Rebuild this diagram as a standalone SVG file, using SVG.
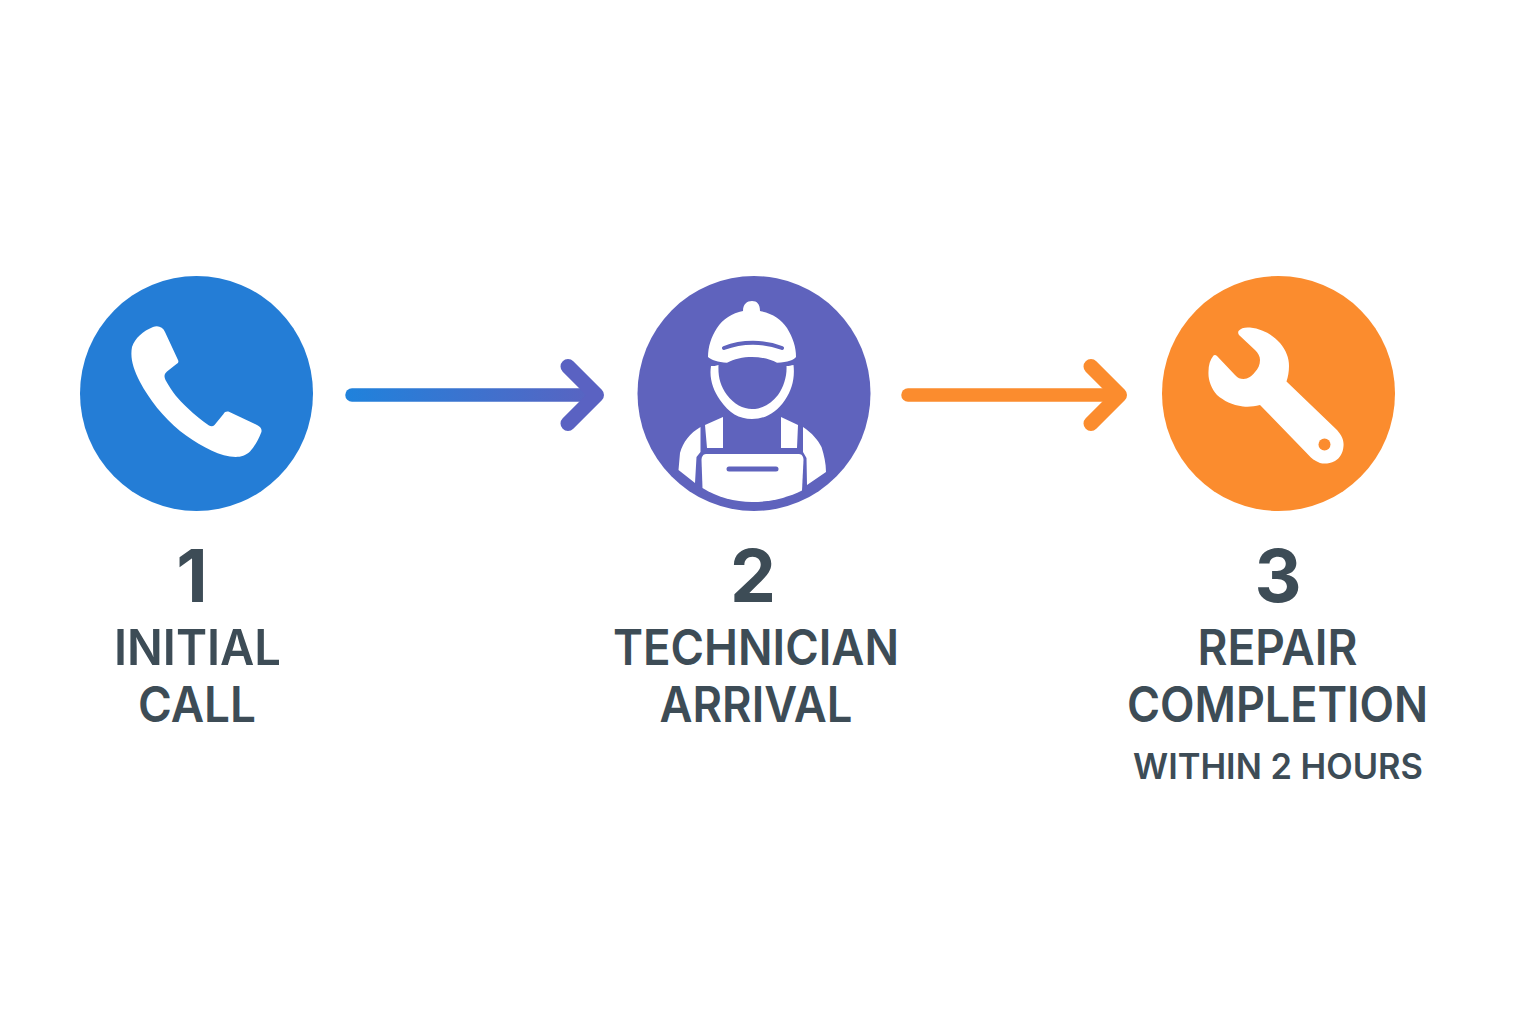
<svg xmlns="http://www.w3.org/2000/svg" width="1536" height="1024" viewBox="0 0 1536 1024">
<style>
text{font-family:Inter,Roboto,"Liberation Sans",sans-serif;fill:#3d4c56;text-anchor:middle}
.n{font-size:73px;font-weight:700}
.l{font-size:49px;font-weight:600}
.s{font-size:35px;font-weight:600}
.w{fill:#fff}
.a{fill:none;stroke-linecap:round;stroke-linejoin:round}
</style>
<defs>
<linearGradient id="g" gradientUnits="userSpaceOnUse" x1="346" y1="395" x2="604" y2="395"><stop offset="0" stop-color="#1f82dc"/><stop offset="1" stop-color="#5c62c0"/></linearGradient>
</defs>
<rect width="1536" height="1024" fill="#fff"/>
<g id="connectors">
<path class="a" stroke="url(#g)" stroke-width="13.500" d="M352 395H595"/>
<path class="a" stroke="#5a62c2" stroke-width="15" d="M568 366.500L596.500 395L568 423.500"/>
<path class="a" stroke="#fb8c2e" stroke-width="13.500" d="M908 395H1118"/>
<path class="a" stroke="#fb8c2e" stroke-width="15" d="M1091 366.500L1119.500 395L1091 423.500"/>
</g>
<g id="node1">
<ellipse cx="196.500" cy="393.500" rx="116.500" ry="117.500" fill="#247dd6"/>
<path class="w" d="M153 327C158 325 163 327 165 332L178 360C179 362 178 363 176.500 364L167 371.500C164 374 164 377 165.500 380C172 392 179 400 186.500 407C195 415 202 421 209 425.500C211 426.500 213 426.500 214.500 425L223.500 414C225 411.500 227 411 229.500 412L257 425C261 427 262.500 430 261 433C258 441 254 447 250 451.500C244 457 238 457.500 230 456.500C214 454 196 443 180 431C163 417 149 399 140 382C133 368 130 358 132 347C135 338 143 331 153 327Z"/>
<text class="n" x="192" y="602">1</text>
<text class="l" x="197.500" y="665" textLength="167" lengthAdjust="spacingAndGlyphs">INITIAL</text>
<text class="l" x="197" y="722" textLength="118" lengthAdjust="spacingAndGlyphs">CALL</text>
</g>
<g id="node2">
<ellipse cx="754" cy="393.500" rx="116.500" ry="117.500" fill="#5f63bd"/>
<path class="w" d="M743 311C743 304 747 301 752 301C757 301 760 304 760 311C772 313 781 319 787 328C793 338 796 347 796 357C794 360 788 362 777 362.700C770 359 761 357 752 357C743 357 734 359 727 362.700C718 362 711 360 708 357C708 347 711 337 717 328C723 319 732 313 743 311Z"/>
<path d="M724 348C742 341 764 341 782 348" fill="none" stroke="#5f63bd" stroke-width="4" stroke-linecap="round"/>
<path class="w" d="M711 366C713 366 716 366 718.500 365C718 376 720 386 727 395C734 404 743 409 752 409C762 409 771 404 778 395C784 386 787 376 786.500 366C789 366 791 365.500 793.500 365C795 378 792 390 785 400C776 413 765 419 752 419C739 419 729 413 720 400C713 390 709 378 711 366Z"/>
<path class="w" d="M705 425L723 417V448L707 448ZM781 417L798 425L797 448H781ZM700.500 427C690 433 683 442 680 453L678.500 470L695 483L696.500 457L700.500 452ZM803 427C812 433 818 440 821.500 447C824 455 826 463 826 472L807 485L806.500 458L803 452Z"/>
<path class="w" d="M706 454H799C802 454 803.500 457 803.500 460L802 490.500C787 498 770 502 752 502C735 502 717 497 702.500 488L701.500 460C701.500 457 703 454 706 454Z"/>
<path d="M729 469H776" fill="none" stroke="#5f63bd" stroke-width="5" stroke-linecap="round"/>
<text class="n" x="753" y="602">2</text>
<text class="l" x="756" y="665" textLength="286" lengthAdjust="spacingAndGlyphs">TECHNICIAN</text>
<text class="l" x="756" y="722" textLength="193" lengthAdjust="spacingAndGlyphs">ARRIVAL</text>
</g>
<g id="node3">
<ellipse cx="1278.500" cy="393.500" rx="116.500" ry="117.500" fill="#fb8c2e"/>
<path class="w" d="M1238.500 331C1241 328 1245 327 1250 327.500C1263 329 1273 335 1280 343C1286 350 1289 358 1289 366C1289 372 1288 377 1286.500 381.500L1337 430C1342 436 1344 440 1343.500 446C1343 453 1340 458 1335 461C1329 464 1324 464 1320 463C1315 461 1311 458 1308.500 455L1260 405C1254 406.500 1249 407 1243 406.500C1232 405 1224 401 1217 395C1211 388 1208 380 1208.500 371.500C1208.500 365 1210 360 1213.500 355.500C1214.500 354.500 1216 355 1217 356L1235 375C1238 378 1240 379 1243.500 379C1248 379 1252 376 1255 372C1258 369 1260 365 1260 360C1260 356 1258 353 1255 350L1239 335C1238 334 1238 332 1238.500 331Z"/>
<circle cx="1324.500" cy="444.500" r="6" fill="#fb8c2e"/>
<text class="n" x="1278" y="602">3</text>
<text class="l" x="1277.500" y="665" textLength="160" lengthAdjust="spacingAndGlyphs">REPAIR</text>
<text class="l" x="1277.500" y="722" textLength="301" lengthAdjust="spacingAndGlyphs">COMPLETION</text>
<text class="s" x="1278" y="779" textLength="290" lengthAdjust="spacingAndGlyphs">WITHIN 2 HOURS</text>
</g>
</svg>
